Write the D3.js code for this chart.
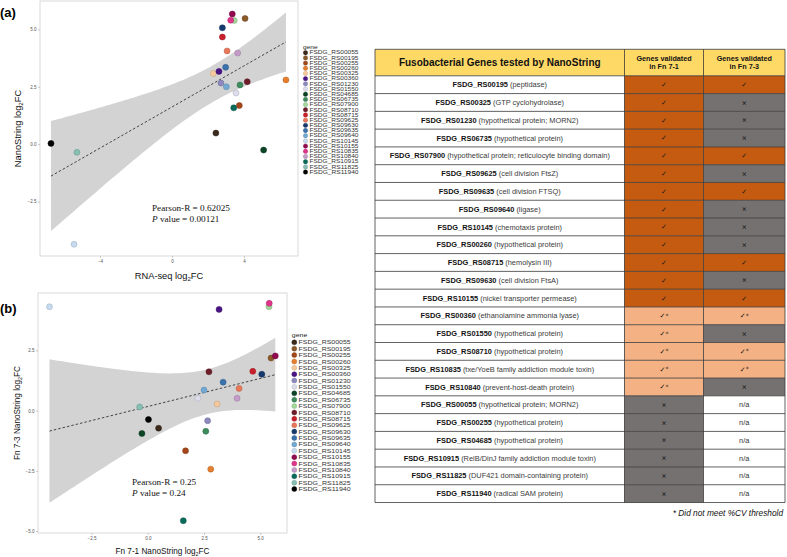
<!DOCTYPE html>
<html><head><meta charset="utf-8">
<script src="https://cdn.jsdelivr.net/npm/d3@7"></script>
<style>body{margin:0;background:#fff} svg{display:block}</style>
</head><body><svg id="c" width="787" height="557"></svg>
<script>
// ---------------- DATA ----------------
const genes = ["FSDG_RS00055","FSDG_RS00195","FSDG_RS00255","FSDG_RS00260","FSDG_RS00325","FSDG_RS00360","FSDG_RS01230","FSDG_RS01550","FSDG_RS04685","FSDG_RS06735","FSDG_RS07900","FSDG_RS08710","FSDG_RS08715","FSDG_RS09625","FSDG_RS09630","FSDG_RS09635","FSDG_RS09640","FSDG_RS10145","FSDG_RS10155","FSDG_RS10835","FSDG_RS10840","FSDG_RS10915","FSDG_RS11825","FSDG_RS11940"];
const geneColors = ["#3b2a1c","#8b5a2b","#a3471a","#e57e2e","#f5c99c","#4a1486","#8c89bf","#dcdcec","#0b4525","#3d8c5c","#a1d99b","#6e1e2a","#c8202a","#e9775a","#163a6e","#3a72ad","#72a9d4","#c6dbef","#91094f","#e0348a","#c59bc9","#0b6b5a","#86bfb3","#000000"];
// panel (a): RNA-seq log2FC (x) vs NanoString Fn 7-1 log2FC (y)
const rnaSeqFC = [2.44,4.06,3.74,6.33,2.30,2.61,2.72,3.56,5.09,3.78,3.46,4.18,2.80,3.06,2.80,2.98,3.02,-5.44,3.35,3.26,3.65,3.43,-5.28,-6.72];
const fn71FC   = [0.48,5.48,1.68,2.80,3.08,3.17,2.66,2.23,-0.26,2.58,5.39,2.72,4.67,4.06,5.07,3.35,2.50,-4.37,5.67,5.40,3.97,1.58,-0.36,0.03];
// panel (b): Fn 7-1 (x) vs Fn 7-3 (y)
const fn73FC   = [-0.73,2.18,-1.67,-2.43,0.27,4.20,-0.42,0.51,-0.95,-0.86,4.31,1.61,1.63,0.92,1.51,1.18,0.85,4.31,2.27,4.45,0.51,-4.57,0.15,-0.37];
const xTicksA = [-4,0,4];
const yTicksA = [-2.5,0,2.5,5];
const xTicksB = [-2.5,0,2.5,5];
const yTicksB = [-5,-2.5,0,2.5];
const statA = {r:"0.62025", p:"0.00121"};
const statB = {r:"0.25", p:"0.24"};
// table
const tableIds = ["FSDG_RS00195","FSDG_RS00325","FSDG_RS01230","FSDG_RS06735","FSDG_RS07900","FSDG_RS09625","FSDG_RS09635","FSDG_RS09640","FSDG_RS10145","FSDG_RS00260","FSDG_RS08715","FSDG_RS09630","FSDG_RS10155","FSDG_RS00360","FSDG_RS01550","FSDG_RS08710","FSDG_RS10835","FSDG_RS10840","FSDG_RS00055","FSDG_RS00255","FSDG_RS04685","FSDG_RS10915","FSDG_RS11825","FSDG_RS11940"];
const tableDesc = ["(peptidase)","(GTP cyclohydrolase)","(hypothetical protein; MORN2)","(hypothetical protein)","(hypothetical protein; reticulocyte binding domain)","(cell division FtsZ)","(cell division FTSQ)","(ligase)","(chemotaxis protein)","(hypothetical protein)","(hemolysin III)","(cell division FtsA)","(nickel transporter permease)","(ethanolamine ammonia lyase)","(hypothetical protein)","(hypothetical protein)","(txe/YoeB family addiction module toxin)","(prevent-host-death protein)","(hypothetical protein; MORN2)","(hypothetical protein)","(hypothetical protein)","(RelB/DinJ family addiction module toxin)","(DUF421 domain-containing protein)","(radical SAM protein)"];
const fn71Status = ["v","v","v","v","v","v","v","v","v","v","v","v","v","s","s","s","s","s","x","x","x","x","x","x"];
const fn73Status = ["v","x","x","x","v","x","v","x","x","x","v","x","v","s","x","s","s","x","na","na","na","na","na","na"];
const tableHeader = ["Fusobacterial Genes tested by NanoString", ["Genes validated","in Fn 7-1"], ["Genes validated","in Fn 7-3"]];
const footnote = "* Did not meet %CV threshold";

// ---------------- DRAW ----------------
const svg = d3.select("#c");
const SANS = "'Liberation Sans', Arial, sans-serif";
const SERIF = "'Liberation Serif', 'Times New Roman', serif";

function fit(xs, ys){
  const n = xs.length, mx = d3.mean(xs), my = d3.mean(ys);
  let sxx=0, sxy=0;
  for(let i=0;i<n;i++){ sxx += (xs[i]-mx)**2; sxy += (xs[i]-mx)*(ys[i]-my); }
  const b = sxy/sxx, a = my - b*mx;
  let ss=0; for(let i=0;i<n;i++){ ss += (ys[i]-a-b*xs[i])**2; }
  const s = Math.sqrt(ss/(n-2));
  return {a, b, se: x => s*Math.sqrt(1/n + (x-mx)**2/sxx)};
}

function scatter(cfg){
  const g = svg.append("g");
  const x = d3.scaleLinear().domain(cfg.xd).range([cfg.x0, cfg.x1]);
  const y = d3.scaleLinear().domain(cfg.yd).range([cfg.y1, cfg.y0]);
  g.append("rect").attr("x",cfg.x0).attr("y",cfg.y0).attr("width",cfg.x1-cfg.x0).attr("height",cfg.y1-cfg.y0)
    .attr("fill","#fff").attr("stroke","#cfcfcf").attr("stroke-width",0.8);
  // smoothing (lm, 95% CI)
  const m = fit(cfg.xs, cfg.ys);
  const t = 2.0739;
  const [lo, hi] = d3.extent(cfg.xs);
  const grid = d3.range(0, 81).map(i => lo + (hi-lo)*i/80);
  g.append("path").datum(grid)
    .attr("d", d3.area().x(d=>x(d)).y0(d=>y(m.a+m.b*d - t*m.se(d))).y1(d=>y(m.a+m.b*d + t*m.se(d))))
    .attr("fill","#d3d3d3");
  g.append("line").attr("x1",x(lo)).attr("y1",y(m.a+m.b*lo)).attr("x2",x(hi)).attr("y2",y(m.a+m.b*hi))
    .attr("stroke","#333").attr("stroke-width",0.9).attr("stroke-dasharray","2.5,2");
  // axes
  const ax = g.append("g").attr("transform",`translate(0,${cfg.y1})`)
    .call(d3.axisBottom(x).tickValues(cfg.xt).tickFormat(cfg.xf).tickSize(2).tickPadding(2));
  const ay = g.append("g").attr("transform",`translate(${cfg.x0},0)`)
    .call(d3.axisLeft(y).tickValues(cfg.yt).tickFormat(d3.format(".1f")).tickSize(2).tickPadding(1.5));
  [ax, ay].forEach(a => {
    a.select(".domain").remove();
    a.selectAll("line").attr("stroke","#999").attr("stroke-width",0.5);
    a.selectAll("text").attr("fill","#555").style("font-family",SANS).style("font-size","4.5px");
  });
  // points
  g.selectAll("circle.pt").data(cfg.xs.map((v,i)=>i)).enter().append("circle").attr("class","pt")
    .attr("cx", i=>x(cfg.xs[i])).attr("cy", i=>y(cfg.ys[i])).attr("r", 3)
    .attr("fill", i=>geneColors[i]).attr("stroke", i=>d3.color(geneColors[i]).darker(0.7)).attr("stroke-width",0.5);
  // titles
  const xt = g.append("text").attr("x",(cfg.x0+cfg.x1)/2).attr("y",cfg.xly).attr("text-anchor","middle")
    .style("font-family",SANS).style("font-size",cfg.tfs+"px").attr("fill","#111");
  xt.append("tspan").text(cfg.xlab);
  xt.append("tspan").text("2").attr("dy",2).style("font-size",(cfg.tfs*0.65)+"px");
  xt.append("tspan").text("FC").attr("dy",-2);
  const yt = g.append("text").attr("transform",`translate(${cfg.ylx},${(cfg.y0+cfg.y1)/2}) rotate(-90)`).attr("text-anchor","middle")
    .style("font-family",SANS).style("font-size",cfg.tfs+"px").attr("fill","#111");
  yt.append("tspan").text(cfg.ylab);
  yt.append("tspan").text("2").attr("dy",2).style("font-size",(cfg.tfs*0.65)+"px");
  yt.append("tspan").text("FC").attr("dy",-2);
  // stats
  g.append("text").attr("x",cfg.sx).attr("y",cfg.sy).style("font-family",SERIF).style("font-size","9.2px").attr("fill","#111")
    .text("Pearson-R = "+cfg.stat.r);
  const pt = g.append("text").attr("x",cfg.sx).attr("y",cfg.sy+10.5).style("font-family",SERIF).style("font-size","9.2px").attr("fill","#111");
  pt.append("tspan").text("P").style("font-style","italic");
  pt.append("tspan").text(" value = "+cfg.stat.p);
  // panel label
  g.append("text").attr("x",cfg.lx).attr("y",cfg.ly).style("font-family",SANS).style("font-weight","bold").style("font-size","13px").text(cfg.label);
  // legend
  const lg = g.append("g");
  lg.append("text").attr("x",cfg.legX-2.5).attr("y",cfg.legY-cfg.legStep*0.8).style("font-family",SANS).style("font-size",(cfg.legFs)+"px")
    .attr("fill","#222").attr("textLength",cfg.legTL*0.3).attr("lengthAdjust","spacingAndGlyphs").text("gene");
  genes.forEach((gname,i) => {
    const yy = cfg.legY + i*cfg.legStep;
    lg.append("circle").attr("cx",cfg.legX).attr("cy",yy).attr("r",cfg.legR)
      .attr("fill",geneColors[i]).attr("stroke",d3.color(geneColors[i]).darker(0.7)).attr("stroke-width",0.4);
    lg.append("text").attr("x",cfg.legX+cfg.legR+1.8).attr("y",yy).attr("dy","0.35em")
      .attr("textLength",cfg.legTL).attr("lengthAdjust","spacingAndGlyphs")
      .style("font-family",SANS).style("font-size",cfg.legFs+"px").attr("fill","#333").text(gname);
  });
}

scatter({x0:40,x1:298,y0:1,y1:256, xd:[-7.33,7.0], yd:[-4.88,6.24], xs:rnaSeqFC, ys:fn71FC,
  xt:xTicksA, yt:yTicksA, xf:d3.format("d"),
  xlab:"RNA-seq log", ylab:"NanoString log", xly:279, ylx:21, tfs:9.3,
  sx:152, sy:211, stat:statA, label:"(a)", lx:0, ly:17,
  legX:305.5, legY:52.7, legStep:5.19, legR:2.2, legFs:4.9, legTL:49});

scatter({x0:38,x1:287,y0:293,y1:533, xd:[-4.88,6.19], yd:[-5.08,4.88], xs:fn71FC, ys:fn73FC,
  xt:xTicksB, yt:yTicksB, xf:d3.format(".1f"),
  xlab:"Fn 7-1 NanoString log", ylab:"Fn 7-3 NanoString log", xly:554, ylx:20, tfs:8.2,
  sx:132, sy:485, stat:statB, label:"(b)", lx:0, ly:313,
  legX:294.3, legY:342.3, legStep:6.38, legR:2.5, legFs:5.9, legTL:52});

// ---------------- TABLE ----------------
const cols = [375, 624.5, 703.5, 785];
const hTop = 49.3, hBot = 75.8, rowH = 17.78;
const tg = svg.append("g");
const fillFor = s => s==="v" ? "#c55a11" : s==="s" ? "#f4b183" : s==="x" ? "#767171" : "#ffffff";
// header
tg.append("rect").attr("x",cols[0]).attr("y",hTop).attr("width",cols[3]-cols[0]).attr("height",hBot-hTop).attr("fill","#ffd966");
tg.append("text").attr("x",(cols[0]+cols[1])/2).attr("y",(hTop+hBot)/2).attr("dy","0.35em").attr("text-anchor","middle")
  .style("font-family",SANS).style("font-weight","bold").style("font-size","10px").attr("fill","#111").text(tableHeader[0]);
[1,2].forEach(c => {
  tableHeader[c].forEach((ln,k) => {
    tg.append("text").attr("x",(cols[c]+cols[c+1])/2).attr("y",(hTop+hBot)/2 + (k===0?-4:4)).attr("dy","0.35em").attr("text-anchor","middle")
      .style("font-family",SANS).style("font-weight","bold").style("font-size","7.2px").attr("fill","#111").text(ln);
  });
});
// rows
tableIds.forEach((id,i) => {
  const y0 = hBot + i*rowH, yc = y0 + rowH/2;
  tg.append("rect").attr("x",cols[0]).attr("y",y0).attr("width",cols[1]-cols[0]).attr("height",rowH).attr("fill","#fff");
  const t = tg.append("text").attr("x",(cols[0]+cols[1])/2).attr("y",yc).attr("dy","0.35em").attr("text-anchor","middle")
    .style("font-family",SANS).style("font-size","7.4px");
  t.append("tspan").text(id).style("font-weight","bold").attr("fill","#111");
  t.append("tspan").text(" "+tableDesc[i]).attr("fill","#3a3a3a");
  [fn71Status[i], fn73Status[i]].forEach((s,k) => {
    const cx0 = cols[k+1], cx1 = cols[k+2];
    tg.append("rect").attr("x",cx0).attr("y",y0).attr("width",cx1-cx0).attr("height",rowH).attr("fill",fillFor(s));
    const tt = tg.append("text").attr("x",(cx0+cx1)/2).attr("y",yc).attr("dy","0.35em").attr("text-anchor","middle")
      .style("font-family","'DejaVu Sans', sans-serif").attr("fill","#1a1a1a");
    if(s==="v"){ tt.style("font-size","7px").text("\u2713"); }
    else if(s==="s"){ tt.style("font-size","7px"); tt.append("tspan").text("\u2713"); tt.append("tspan").text("*").style("font-size","6px").attr("dy",-0.5); }
    else if(s==="x"){ tt.style("font-size","6px").style("font-weight","bold").text("\u00d7"); }
    else { tt.style("font-family",SANS).style("font-size","7.4px").attr("fill","#333").text("n/a"); }
  });
});
// grid lines
const nRows = tableIds.length, tBot = hBot + nRows*rowH;
const lines = tg.append("g").attr("stroke","#3a3a3a").attr("stroke-width",0.8);
[hTop, hBot].concat(d3.range(1,nRows+1).map(i=>hBot+i*rowH)).forEach(yy=>{
  lines.append("line").attr("x1",cols[0]).attr("x2",cols[3]).attr("y1",yy).attr("y2",yy);
});
cols.forEach(xx=>{ lines.append("line").attr("x1",xx).attr("x2",xx).attr("y1",hTop).attr("y2",tBot); });
// footnote
tg.append("text").attr("x",783).attr("y",tBot+13).attr("text-anchor","end")
  .style("font-family",SANS).style("font-style","italic").style("font-size","8.3px").attr("fill","#111").text(footnote);
</script>
</body></html>
